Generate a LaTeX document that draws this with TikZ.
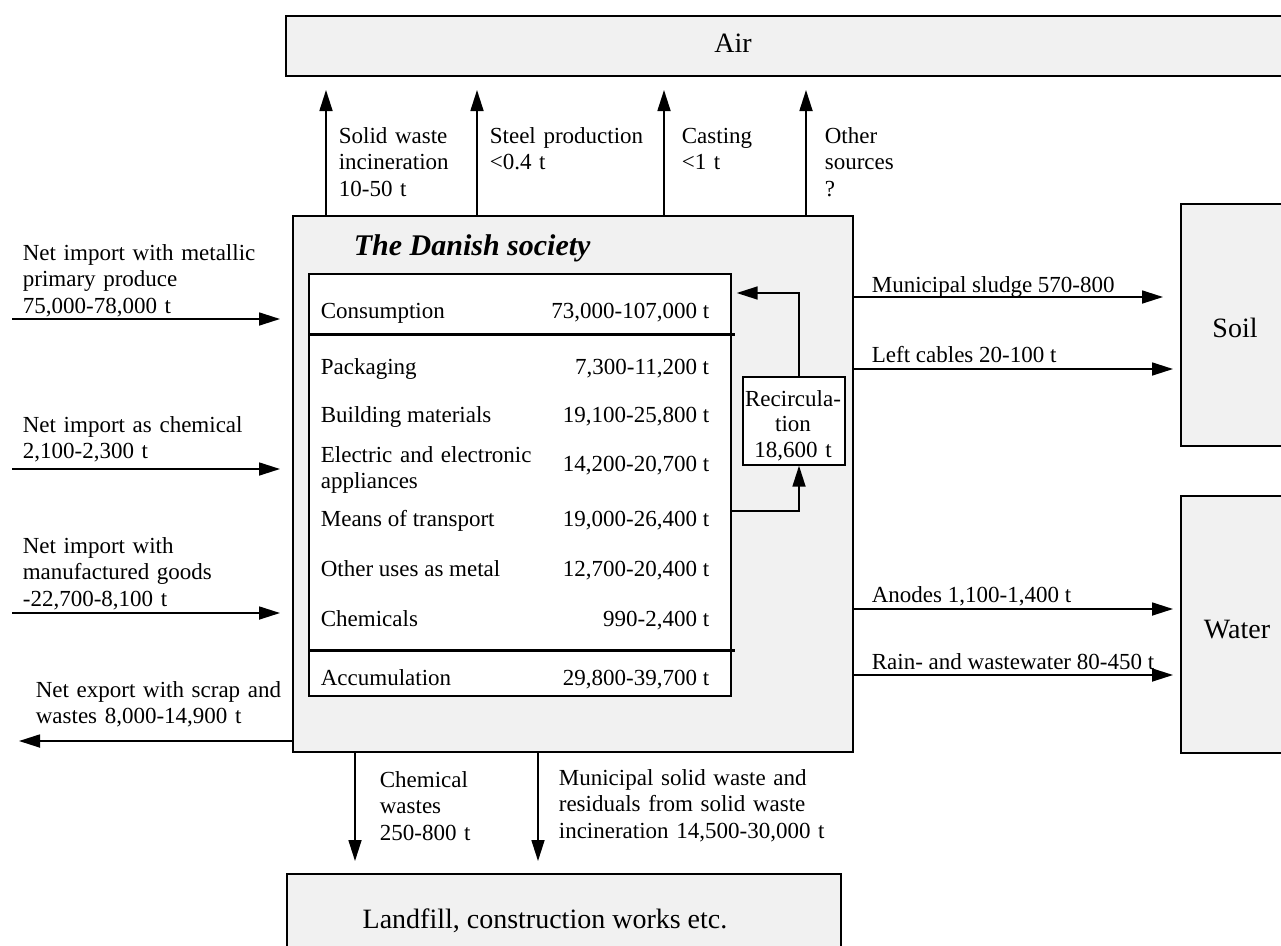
\documentclass[tikz,border=0pt]{standalone}
\usepackage{fontspec}
\setmainfont{Liberation Serif}
\usetikzlibrary{arrows.meta}
\definecolor{boxgrey}{HTML}{F1F1F1}

\begin{document}
\begin{tikzpicture}[x=1pt, y=-1pt, line width=1.7pt,
  flow/.style={-{Triangle[length=21pt,width=13pt]}},
  compartment/.style={draw, fill=boxgrey, anchor=north west, inner sep=0pt},
  whitebox/.style={draw, fill=white, anchor=north west, inner sep=0pt},
  bigtext/.style={font=\fontsize{28}{32}\selectfont, inner sep=0pt, anchor=base},
  lbl/.style={font=\fontsize{23}{26.5}\selectfont, inner sep=0pt, anchor=base west},
  mlbl/.style={lbl, align=left, text width=#1},
  num/.style={font=\fontsize{23}{26.5}\selectfont, inner sep=0pt, anchor=base east},
  divider/.style={line width=3pt}
]
\useasboundingbox (0,0) rectangle (1281,945);
\clip (0,0) rectangle (1281,945);

% surrounding compartments
\node[compartment, minimum width=1020pt, minimum height=60pt] (air) at (285,15) {};
\node[bigtext] (airlabel) at (733,52) {Air};
\node[compartment, minimum width=112pt, minimum height=242pt] (soil) at (1180,203) {};
\node[bigtext] (soillabel) at (1235,337) {Soil};
\node[compartment, minimum width=114pt, minimum height=257pt] (water) at (1180,495) {};
\node[bigtext] (waterlabel) at (1237,638) {Water};
\node[compartment, minimum width=554pt, minimum height=90pt] (landfill) at (286,873) {};
\node[bigtext] (landfilllabel) at (545,928) {Landfill, construction works etc.};

% the society and its stock table
\node[compartment, minimum width=560pt, minimum height=536pt] (soc) at (292,215) {};
\node[inner sep=0pt, anchor=base west, font=\fontsize{30}{34}\selectfont\bfseries\itshape]
  (soctitle) at (353,255) {The Danish society};
\node[whitebox, minimum width=422pt, minimum height=422pt] (tbl) at (308,273) {};
\draw[divider] (tbl.west |- 0,334) -- ([xshift=3pt]tbl.east |- 0,334);
\draw[divider] (tbl.west |- 0,650) -- ([xshift=3pt]tbl.east |- 0,650);

\node[lbl] (c1) at (320,318) {Consumption};
\node[num] (v1) at (710,318) {73,000-107,000 t};
\node[lbl] (c2) at (320,374) {Packaging};
\node[num] (v2) at (710,374) {7,300-11,200 t};
\node[lbl] (c3) at (320,422) {Building materials};
\node[num] (v3) at (710,422) {19,100-25,800 t};
\node[mlbl=225pt] (c4) at (320,462) {Electric and electronic\\appliances};
\node[num] (v4) at (710,471) {14,200-20,700 t};
\node[lbl] (c5) at (320,526) {Means of transport};
\node[num] (v5) at (710,526) {19,000-26,400 t};
\node[lbl] (c6) at (320,576) {Other uses as metal};
\node[num] (v6) at (710,576) {12,700-20,400 t};
\node[lbl] (c7) at (320,626) {Chemicals};
\node[num] (v7) at (710,626) {990-2,400 t};
\node[lbl] (c8) at (320,685) {Accumulation};
\node[num] (v8) at (710,685) {29,800-39,700 t};

% recirculation loop
\node[whitebox, minimum width=102pt, minimum height=88pt] (rec) at (742,376) {};
\node[font=\fontsize{23}{25.5}\selectfont, inner sep=0pt, anchor=base, align=center, text width=102pt]
  (reclabel) at (793,406) {Recircula-\\tion\\18,600 t};
\coordinate (recup) at (799,293);
\draw[flow] (recup |- rec.north) -- (recup) -- ([xshift=5pt]tbl.east |- recup);
\coordinate (recin) at (799,511);
\draw[flow] (tbl.east |- recin) -- (recin) -- (recin |- rec.south);

% emissions to air
\coordinate (up1) at (326,90);
\coordinate (up2) at (477,90);
\coordinate (up3) at (664,90);
\coordinate (up4) at (806,90);
\foreach \u in {up1,up2,up3,up4} \draw[flow] (\u |- soc.north) -- (\u);
\node[mlbl=120pt] (l1) at (338,143) {Solid waste\\incineration\\10-50 t};
\node[mlbl=170pt] (l2) at (489,143) {Steel production\\<0.4 t};
\node[mlbl=90pt] (l3) at (681,143) {Casting\\<1 t};
\node[mlbl=85pt] (l4) at (824,143) {Other\\sources\\?};

% imports and export
\coordinate (imp1) at (12,319);
\coordinate (imp2) at (12,469);
\coordinate (imp3) at (12,613);
\foreach \i in {imp1,imp2,imp3} \draw[flow] (\i) -- ([xshift=-12pt]\i -| soc.west);
\node[mlbl=245pt] (i1) at (22,260) {Net import with metallic\\primary produce\\75,000-78,000 t};
\node[mlbl=230pt] (i2) at (22,432) {Net import as chemical\\2,100-2,300 t};
\node[mlbl=210pt] (i3) at (22,553) {Net import with\\manufactured goods\\-22,700-8,100 t};
\coordinate (exp) at (19,741);
\draw[flow] (exp -| soc.west) -- (exp);
\node[mlbl=250pt] (e1) at (35,697) {Net export with scrap and\\wastes 8,000-14,900 t};

% flows to soil and water
\coordinate (sludge) at (1163,297);
\coordinate (cables) at (1173,369);
\coordinate (anodes) at (1173,609);
\coordinate (rain) at (1173,675);
\foreach \r in {sludge,cables,anodes,rain} \draw[flow] (\r -| soc.east) -- (\r);
\node[lbl] (r1) at (871,292) {Municipal sludge 570-800};
\node[lbl] (r2) at (871,362) {Left cables 20-100 t};
\node[lbl] (r3) at (871,602) {Anodes 1,100-1,400 t};
\node[lbl] (r4) at (871,669) {Rain- and wastewater 80-450 t};

% flows to landfill
\coordinate (dw1) at (355,861);
\coordinate (dw2) at (538,861);
\foreach \d in {dw1,dw2} \draw[flow] (\d |- soc.south) -- (\d);
\node[mlbl=110pt] (d1) at (379,787) {Chemical\\wastes\\250-800 t};
\node[mlbl=300pt] (d2) at (558,785) {Municipal solid waste and\\residuals from solid waste\\incineration 14,500-30,000 t};
\end{tikzpicture}
\end{document}
